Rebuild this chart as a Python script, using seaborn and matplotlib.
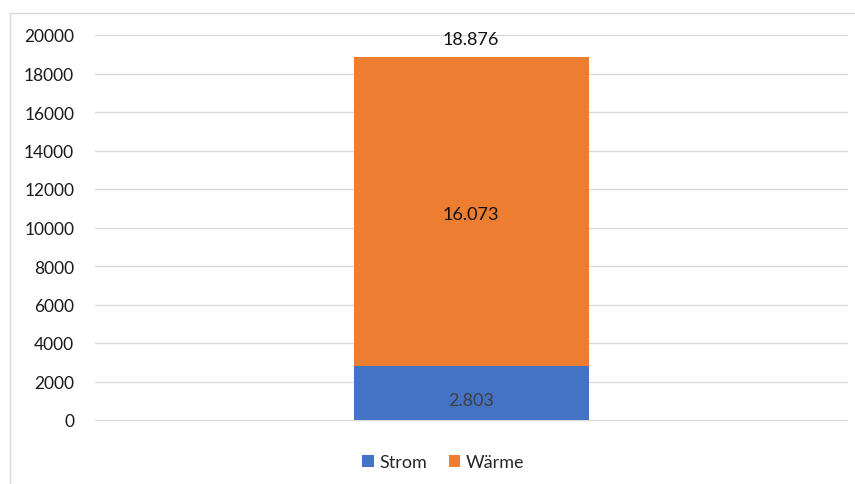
import matplotlib
matplotlib.use("Agg")
import matplotlib.pyplot as plt
from matplotlib.patches import Rectangle
import seaborn as sns
import pandas as pd

categories = [""]
strom = [2803]
waerme = [16073]
series_names = ["Strom", "Wärme"]
colors = ["#4472C4", "#ED7D31"]
yticks = [0, 2000, 4000, 6000, 8000, 10000, 12000, 14000, 16000, 18000, 20000]


def de_fmt(v):
    return f"{v:,}".replace(",", ".")


sns.set_theme(style="white")
plt.rcParams["font.family"] = ["Lato", "DejaVu Sans"]

totals = [s + w for s, w in zip(strom, waerme)]
df = pd.DataFrame({"cat": categories, "Strom": strom, "Wärme": waerme, "total": totals})

fig = plt.figure(figsize=(8.55, 4.85), dpi=100)
ax = fig.add_axes([95 / 855, 1 - 421 / 485, 752 / 855, (421 - 36) / 485])

# stacked: draw total in Wärme colour, Strom on top of it
sns.barplot(data=df, x="cat", y="total", color=colors[1], width=0.3125,
            saturation=1, ax=ax, label=series_names[1], zorder=3, linewidth=0)
sns.barplot(data=df, x="cat", y="Strom", color=colors[0], width=0.3125,
            saturation=1, ax=ax, label=series_names[0], zorder=3, linewidth=0)

ax.set_ylim(0, 20000)
ax.set_yticks(yticks)
ax.set_yticklabels([str(t) for t in yticks], fontsize=12.5, color="#1a1a1a")
ax.set_xticks([])
ax.set_xlabel("")
ax.set_ylabel("")
ax.tick_params(axis="y", length=0, pad=15)
ax.grid(axis="y", color="#D9D9D9", linewidth=1, zorder=0)
for gl in ax.get_ygridlines():
    gl.set_clip_on(False)
for sp in ax.spines.values():
    sp.set_visible(False)

for i in range(len(categories)):
    ax.annotate(de_fmt(strom[i]), (i, strom[i] / 2), xytext=(0, -5),
                textcoords="offset points", ha="center", va="center",
                fontsize=13, color="#404040", zorder=5)
    ax.annotate(de_fmt(waerme[i]), (i, strom[i] + waerme[i] / 2), xytext=(0, -2),
                textcoords="offset points", ha="center", va="center",
                fontsize=13, color="#111111", zorder=5)
    ax.annotate(de_fmt(totals[i]), (i, totals[i]), xytext=(0, 7),
                textcoords="offset points", ha="center", va="bottom",
                fontsize=13, color="#111111", zorder=5)

handles, labels = ax.get_legend_handles_labels()
order = [labels.index(n) for n in series_names]
ax.legend([handles[k] for k in order], [labels[k] for k in order],
          loc="center", bbox_to_anchor=(0.463, -0.11), ncol=2, frameon=False,
          fontsize=13, handlelength=0.65, handleheight=0.65, handletextpad=0.3,
          columnspacing=1.2)

fig.add_artist(Rectangle((10 / 855, -0.1), 1.2, 1.1 - 14 / 485, fill=False,
                         edgecolor="#D9D9D9", linewidth=1,
                         transform=fig.transFigure, clip_on=False))

fig.savefig("out.png", dpi=100)
